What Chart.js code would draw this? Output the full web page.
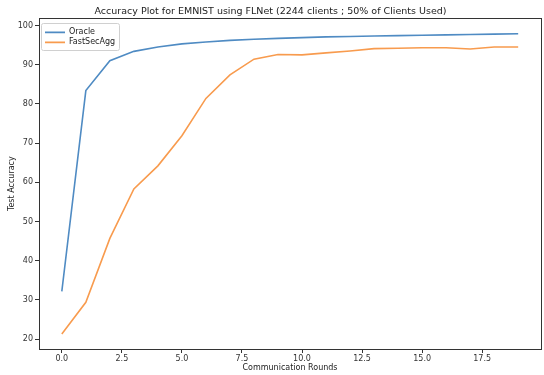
<!DOCTYPE html>
<html>
<head>
<meta charset="utf-8">
<script src="https://cdn.jsdelivr.net/npm/chart.js@4/dist/chart.umd.min.js"></script>
<style>
  html, body { margin: 0; padding: 0; background: #fff; }
  canvas { display: block; }
</style>
</head>
<body>
<canvas id="acc-chart" width="544" height="375"></canvas>
<script>
"use strict";
const rounds = [0, 1, 2, 3, 4, 5, 6, 7, 8, 9, 10, 11, 12, 13, 14, 15, 16, 17, 18, 19];
const oracle = [32.2, 83.4, 91.0, 93.4, 94.5, 95.3, 95.8, 96.2, 96.5, 96.7, 96.9, 97.1, 97.2, 97.3, 97.4, 97.5, 97.6, 97.7, 97.8, 97.9];
const fastSecAgg = [21.3, 29.4, 45.7, 58.3, 64.2, 71.9, 81.4, 87.4, 91.4, 92.6, 92.5, 93.0, 93.5, 94.1, 94.2, 94.3, 94.3, 94.0, 94.5, 94.5];
const xTicks = [0, 2.5, 5, 7.5, 10, 12.5, 15, 17.5];
const yTicks = [20, 30, 40, 50, 60, 70, 80, 90, 100];

const FONT = "'DejaVu Sans', sans-serif";
const AXIS = '#333333';

const framePlugin = {
    id: 'frame',
    afterLayout(chart) {
        // nudge the legend a little inside the axes, like matplotlib does
        const lg = chart.legend;
        lg.left = chart.chartArea.left + 4;
        lg.top = chart.chartArea.top + 8;
    },
    afterDraw(chart) {
        const ctx = chart.ctx;
        const a = chart.chartArea;
        ctx.save();
        ctx.strokeStyle = AXIS;
        ctx.lineWidth = 1;
        ctx.strokeRect(Math.round(a.left) + 0.5, Math.round(a.top) + 0.5,
            Math.round(a.right - a.left), Math.round(a.bottom - a.top));

        // legend frame
        const boxes = chart.legend.legendHitBoxes;
        if (boxes && boxes.length) {
            let l = Infinity, t = Infinity, r = -Infinity, b = -Infinity;
            boxes.forEach(h => {
                l = Math.min(l, h.left); t = Math.min(t, h.top);
                r = Math.max(r, h.left + h.width); b = Math.max(b, h.top + h.height);
            });
            ctx.strokeStyle = '#d0d0d0';
            ctx.beginPath();
            ctx.roundRect(Math.round(l - 4) + 0.5, Math.round(t - 5) + 0.5,
                Math.round(r - l + 8), Math.round(b - t + 9), 2);
            ctx.stroke();
        }
        ctx.restore();
    }
};

const ctx = document.getElementById('acc-chart').getContext('2d');
new Chart(ctx, {
    type: 'line',
    data: {
        datasets: [
            {
                label: 'Oracle',
                data: rounds.map((r, i) => ({ x: r, y: oracle[i] })),
                borderColor: '#4f8bc3',
                backgroundColor: '#4f8bc3',
                borderWidth: 1.6,
                pointRadius: 0,
                tension: 0
            },
            {
                label: 'FastSecAgg',
                data: rounds.map((r, i) => ({ x: r, y: fastSecAgg[i] })),
                borderColor: '#f89b4e',
                backgroundColor: '#f89b4e',
                borderWidth: 1.6,
                pointRadius: 0,
                tension: 0
            }
        ]
    },
    options: {
        responsive: false,
        animation: false,
        layout: { padding: { left: 0, right: 3, top: 0, bottom: 0 } },
        scales: {
            x: {
                type: 'linear',
                min: -0.95,
                max: 19.95,
                afterBuildTicks: s => { s.ticks = xTicks.map(v => ({ value: v })); },
                afterFit: s => { s.height = 26; },
                grid: { drawOnChartArea: false, drawTicks: true, tickLength: 4, color: AXIS },
                border: { display: true, color: AXIS },
                ticks: {
                    autoSkip: false, maxRotation: 0, padding: 1,
                    color: '#333', font: { family: FONT, size: 8 },
                    callback: v => v.toFixed(1)
                },
                title: {
                    display: true, text: 'Communication Rounds', color: '#222',
                    font: { family: FONT, size: 8 }, padding: { top: 0, bottom: 2 }
                }
            },
            y: {
                min: 17.5,
                max: 101.8,
                afterBuildTicks: s => { s.ticks = yTicks.map(v => ({ value: v })); },
                afterFit: s => { s.width = 39; },
                grid: { drawOnChartArea: false, drawTicks: true, tickLength: 4, color: AXIS },
                border: { display: true, color: AXIS },
                ticks: {
                    padding: 2, color: '#333', font: { family: FONT, size: 8 }
                },
                title: {
                    display: true, text: 'Test Accuracy', color: '#222',
                    font: { family: FONT, size: 8 }, padding: { top: 7, bottom: 0 }
                }
            }
        },
        plugins: {
            title: {
                display: true,
                text: 'Accuracy Plot for EMNIST using FLNet (2244 clients ; 50% of Clients Used)',
                color: '#222',
                font: { family: FONT, size: 9.5, weight: 'normal' },
                padding: { top: 6, bottom: 1 }
            },
            legend: {
                position: 'chartArea',
                align: 'start',
                labels: {
                    usePointStyle: true,
                    pointStyle: 'line',
                    pointStyleWidth: 20,
                    color: '#222',
                    font: { family: FONT, size: 8 },
                    padding: 2
                }
            },
            tooltip: { enabled: false }
        }
    },
    plugins: [framePlugin]
});
</script>
</body>
</html>
